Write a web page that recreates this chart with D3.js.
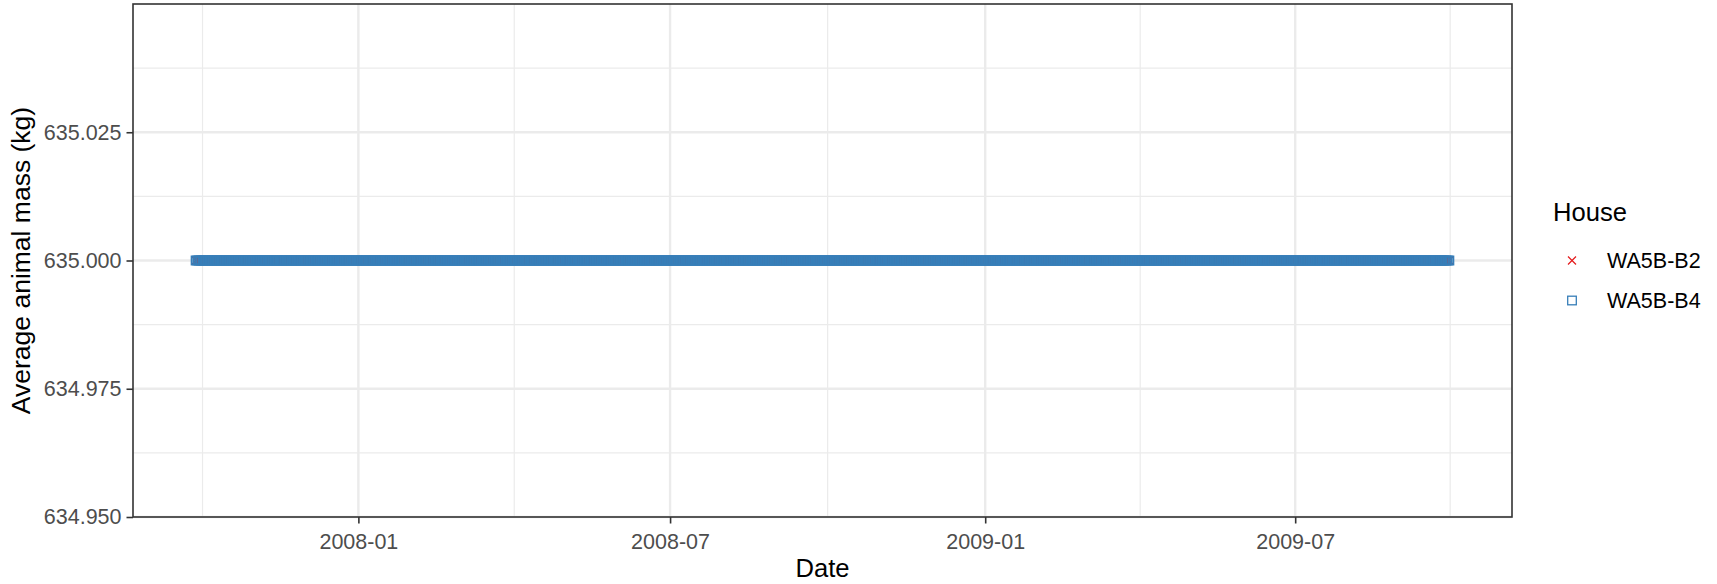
<!DOCTYPE html>
<html>
<head>
<meta charset="utf-8">
<script src="https://cdn.jsdelivr.net/npm/d3@7"></script>
<style>
  body { margin: 0; background: #fff; }
  text { font-family: "Liberation Sans", Arial, sans-serif; }
</style>
</head>
<body>
<div id="chart"></div>
<script>
// one reading per day for each house, all at 635 kg
var houses = ["WA5B-B2", "WA5B-B4"];
var houseColors = ["#E41A1C", "#377EB8"];
var firstDay = ["2007-09-28", "2007-09-28"];
var lastDay = ["2009-09-29", "2009-09-29"];
var massKg = [635, 635];

var yTicks = [634.950, 634.975, 635.000, 635.025];
var yLimits = [634.95, 635.05];
var xTicks = ["2008-01-01", "2008-07-01", "2009-01-01", "2009-07-01"];

var parseDay = d3.utcParse("%Y-%m-%d");

function buildRecords() {
    var rows = [];
    houses.forEach(function(h, i) {
        var days = d3.utcDay.range(parseDay(firstDay[i]), d3.utcDay.offset(parseDay(lastDay[i]), 1));
        days.forEach(function(d) {
            rows.push({ house: h, date: d, mass: massKg[i] });
        });
    });
    return rows;
}

function drawChart(selector) {
    var data = buildRecords();

    var width = 1717, height = 584;
    var margin = { top: 4, right: 205, bottom: 67, left: 133 };
    var pw = width - margin.left - margin.right,
        ph = height - margin.top - margin.bottom;

    var svg = d3.select(selector).append("svg")
        .attr("width", width)
        .attr("height", height);
    svg.append("rect").attr("width", width).attr("height", height).attr("fill", "#fff");

    // ggplot style 5% expansion around the data
    var ext = d3.extent(data, function(d) { return d.date; });
    var pad = (ext[1] - ext[0]) * 0.05;
    var x = d3.scaleUtc()
        .domain([new Date(+ext[0] - pad), new Date(+ext[1] + pad)])
        .range([0, pw]);
    var y = d3.scaleLinear().domain(yLimits).range([ph, 0]);

    var g = svg.append("g").attr("transform", "translate(" + margin.left + "," + margin.top + ")");

    var majorX = xTicks.map(parseDay);
    var step = majorX[1] - majorX[0];
    var minorX = [new Date(+majorX[0] - step / 2)];
    for (var i = 0; i < majorX.length - 1; i++) {
        minorX.push(new Date((+majorX[i] + +majorX[i + 1]) / 2));
    }
    minorX.push(new Date(+majorX[majorX.length - 1] + (majorX[majorX.length - 1] - majorX[majorX.length - 2]) / 2));
    var minorY = [];
    for (var j = 0; j < yTicks.length; j++) {
        minorY.push(yTicks[j] + 0.0125);
    }

    var grid = g.append("g");
    grid.selectAll("line.minx").data(minorX).enter().append("line")
        .attr("x1", function(d) { return x(d); }).attr("x2", function(d) { return x(d); })
        .attr("y1", 0).attr("y2", ph)
        .attr("stroke", "#EBEBEB").attr("stroke-width", 1.2);
    grid.selectAll("line.miny").data(minorY).enter().append("line")
        .attr("y1", function(d) { return y(d); }).attr("y2", function(d) { return y(d); })
        .attr("x1", 0).attr("x2", pw)
        .attr("stroke", "#EBEBEB").attr("stroke-width", 1.2);
    grid.selectAll("line.majx").data(majorX).enter().append("line")
        .attr("x1", function(d) { return x(d); }).attr("x2", function(d) { return x(d); })
        .attr("y1", 0).attr("y2", ph)
        .attr("stroke", "#EBEBEB").attr("stroke-width", 2.4);
    grid.selectAll("line.majy").data(yTicks).enter().append("line")
        .attr("y1", function(d) { return y(d); }).attr("y2", function(d) { return y(d); })
        .attr("x1", 0).attr("x2", pw)
        .attr("stroke", "#EBEBEB").attr("stroke-width", 2.4);

    var color = d3.scaleOrdinal().domain(houses).range(houseColors);
    var crossPath = "M-4,-4L4,4M-4,4L4,-4";

    // B2 first (crosses), then B4 squares on top
    g.append("g").selectAll("path")
        .data(data.filter(function(d) { return d.house == houses[0]; }))
        .enter().append("path")
        .attr("d", crossPath)
        .attr("transform", function(d) { return "translate(" + x(d.date) + "," + y(d.mass) + ")"; })
        .attr("fill", "none")
        .attr("stroke", color(houses[0]))
        .attr("stroke-width", 1.2);

    g.append("g").selectAll("rect")
        .data(data.filter(function(d) { return d.house == houses[1]; }))
        .enter().append("rect")
        .attr("x", function(d) { return x(d.date) - 4.1; })
        .attr("y", function(d) { return y(d.mass) - 4.1; })
        .attr("width", 8.2).attr("height", 8.2)
        .attr("fill", "none")
        .attr("stroke", color(houses[1]))
        .attr("stroke-width", 1.8);

    g.append("rect")
        .attr("width", pw).attr("height", ph)
        .attr("fill", "none").attr("stroke", "#333333").attr("stroke-width", 1.6);

    var xAxis = g.append("g")
        .attr("transform", "translate(0," + ph + ")")
        .call(d3.axisBottom(x).tickValues(majorX).tickFormat(d3.utcFormat("%Y-%m")).tickSize(6.5).tickPadding(5));
    var yAxis = g.append("g")
        .call(d3.axisLeft(y).tickValues(yTicks).tickFormat(d3.format(".3f")).tickSize(6.5).tickPadding(5));
    [xAxis, yAxis].forEach(function(a) {
        a.select(".domain").remove();
        a.selectAll(".tick line").attr("stroke", "#333333").attr("stroke-width", 1.6);
        a.selectAll(".tick text")
            .attr("fill", "#4D4D4D")
            .style("font-size", "21.5px")
            .style("font-family", "'Liberation Sans', Arial, sans-serif");
    });
    xAxis.selectAll(".tick text").attr("dy", "0.95em");

    svg.append("text")
        .attr("x", margin.left + pw / 2).attr("y", 577)
        .attr("text-anchor", "middle")
        .style("font-size", "25.6px")
        .text("Date");

    svg.append("text")
        .attr("transform", "translate(30," + (margin.top + ph / 2) + ") rotate(-90)")
        .attr("text-anchor", "middle")
        .style("font-size", "26.5px")
        .text("Average animal mass (kg)");

    // legend
    var legend = svg.append("g").attr("transform", "translate(1553,0)");
    legend.append("text").attr("x", 0).attr("y", 221)
        .style("font-size", "25.6px").text("House");
    var keys = legend.selectAll("g.key").data(houses).enter().append("g")
        .attr("transform", function(d, i) { return "translate(19," + (260.5 + i * 40) + ")"; });
    keys.filter(function(d, i) { return i == 0; }).append("path")
        .attr("d", crossPath).attr("fill", "none")
        .attr("stroke", function(d) { return color(d); }).attr("stroke-width", 1.2);
    keys.filter(function(d, i) { return i == 1; }).append("rect")
        .attr("x", -4.3).attr("y", -4.3).attr("width", 8.6).attr("height", 8.6)
        .attr("fill", "none")
        .attr("stroke", function(d) { return color(d); }).attr("stroke-width", 1.3);
    keys.append("text")
        .attr("x", 35).attr("y", 0).attr("dy", "0.36em")
        .style("font-size", "21.5px")
        .text(function(d) { return d; });
}

drawChart("#chart");
</script>
</body>
</html>
